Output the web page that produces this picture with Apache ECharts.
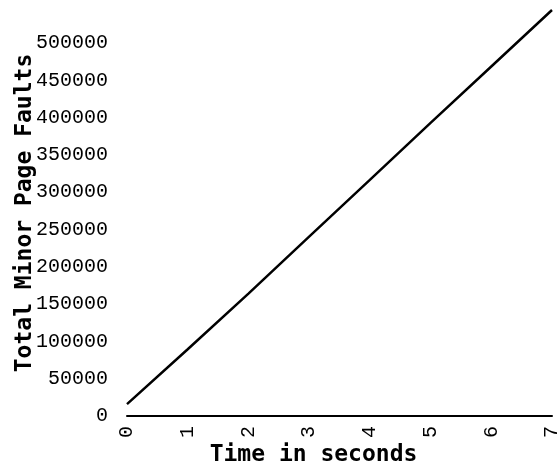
<!DOCTYPE html>
<html>
<head>
<meta charset="utf-8">
<script src="https://cdn.jsdelivr.net/npm/echarts@6/dist/echarts.min.js"></script>
<style>html,body{margin:0;padding:0;background:#fff}#c{width:559px;height:464px}</style>
</head>
<body>
<div id="c"></div>
<script>
var timeSec = [0, 1, 2, 3, 4, 5, 6, 7];
var minorFaults = [16000, 89500, 164000, 240500, 316500, 393000, 468500, 544200];
var xTitle = 'Time in seconds';
var yTitle = 'Total Minor Page Faults';

var chart = echarts.init(document.getElementById('c'));
chart.setOption({
  animation: false,
  grid: {left: 127, right: 7, top: 10, bottom: 48, containLabel: false, outerBoundsMode: 'none'},
  xAxis: {
    type: 'value', min: 0, max: 7, interval: 1,
    name: xTitle, nameLocation: 'middle', nameGap: 28, nameMoveOverlap: false,
    nameTextStyle: {fontFamily: 'DejaVu Sans Mono', fontWeight: 'bold', fontSize: 23, color: '#000', padding: [0, 52, 0, 0]},
    axisLine: {show: true, lineStyle: {color: '#000', width: 2}},
    axisTick: {show: false},
    splitLine: {show: false},
    axisLabel: {rotate: 90, margin: 10, fontFamily: 'Liberation Mono', fontSize: 20, color: '#000'}
  },
  yAxis: {
    type: 'value', min: 0, max: 'dataMax', interval: 50000,
    name: yTitle, nameLocation: 'middle', nameGap: 90, nameRotate: 90, nameMoveOverlap: false,
    nameTextStyle: {fontFamily: 'DejaVu Sans Mono', fontWeight: 'bold', fontSize: 23, color: '#000', padding: [0, 0, 0, 0]},
    axisLine: {show: false},
    axisTick: {show: false},
    splitLine: {show: false},
    axisLabel: {showMaxLabel: false, margin: 19, fontFamily: 'Liberation Mono', fontSize: 20, color: '#000',
      formatter: function (v) { return String(v); }}
  },
  series: [{
    type: 'line',
    data: timeSec.map(function (t, i) { return [t, minorFaults[i]]; }),
    showSymbol: false,
    lineStyle: {color: '#000', width: 2.5}
  }]
});
</script>
</body>
</html>
